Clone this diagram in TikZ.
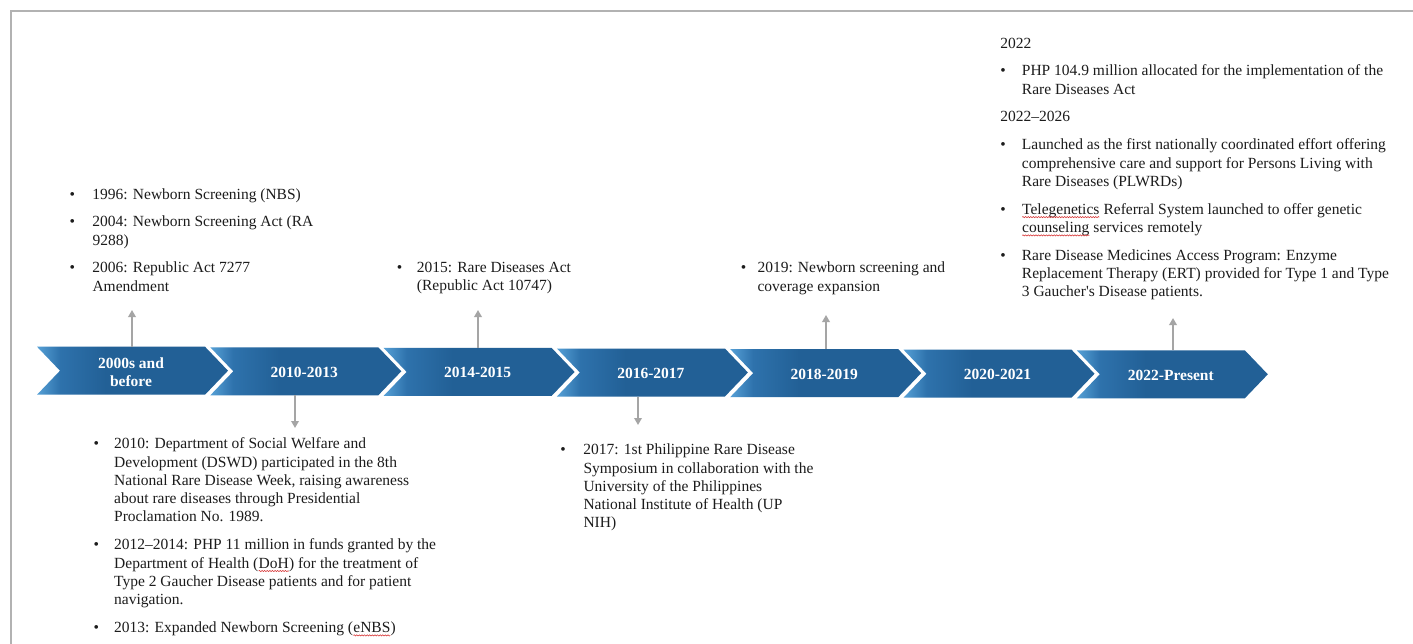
\documentclass[tikz,border=0pt]{standalone}
\usepackage{fontspec}
\setmainfont{Liberation Serif}
\usetikzlibrary{arrows.meta,decorations.pathmorphing}

\definecolor{chevlight}{RGB}{86,160,214}
\definecolor{chevmid}{RGB}{46,114,172}
\definecolor{chevdark}{RGB}{34,96,150}
\definecolor{arrowgray}{RGB}{165,165,165}
\definecolor{framegray}{RGB}{178,178,178}
\definecolor{bodytext}{RGB}{28,28,28}
\definecolor{spellred}{RGB}{215,50,50}

% light-to-dark fill of the period chevrons (visible band is 25bp..75bp)
\pgfdeclarehorizontalshading{chevshade}{100bp}{color(0bp)=(chevlight); color(25bp)=(chevlight); color(31bp)=(chevmid); color(43bp)=(chevdark); color(100bp)=(chevdark)}

% bullet item, continuation line, first-line strut
\newcommand\itm[2]{\makebox[#1][l]{•}#2}
\newcommand\cnt[2]{\hspace*{#1}#2}
\newcommand\topstrut{\rule{0pt}{13pt}}
% word with a red wavy underline
\newcommand\spellmark[1]{\tikz[baseline=(sw.base)]{\node[inner sep=0pt,outer sep=0pt,anchor=base] (sw) at (0,0) {#1};\draw[spellred,line width=0.55pt,decorate,decoration={snake,amplitude=0.6pt,segment length=2.6pt}] ([yshift=-3pt]sw.base west) -- ([yshift=-3pt]sw.base east);}}

\tikzset{
  chevlabel/.style={text=white, font=\fontsize{15.5pt}{18pt}\selectfont\bfseries, align=center, inner sep=0pt},
  events/.style={text=bodytext, font=\fontsize{15.5pt}{18.3pt}\selectfont, align=left, inner sep=0pt, anchor=north west},
  linkarrow/.style={draw=arrowgray, line width=2pt, -{Triangle[width=7.5pt,length=7pt]}},
}

\begin{document}
\begin{tikzpicture}[x=1pt,y=-1pt]
\useasboundingbox (0,0) rectangle (1413,643);
\fill[white] (0,0) rectangle (1413,643);

% page frame
\draw[framegray, line width=1.8pt] (10.8,650) -- (10.8,10.8) -- (1420,10.8);

% period chevrons
\foreach \k/\lab in {0/{2000s and\\before}, 1/{2010-2013}, 2/{2014-2015}, 3/{2016-2017}, 4/{2018-2019}, 5/{2020-2021}, 6/{2022-Present}}{
  \pgfmathsetmacro\L{37+173.3*\k}
  \pgfmathsetmacro\T{346.7+0.6*\k}
  \shade[shading=chevshade] (\L,\T) -- ++(168,0) -- ++(23,24) -- ++(-23,24) -- ++(-168,0) -- ++(23,-24) -- cycle;
  \node[chevlabel] (period\k) at (\L+94,\T+25) {\lab};
}

% anchor points on the chevrons and arrow tips
\coordinate (a0) at (132,346.7);   \coordinate (a0tip) at (132,310);
\coordinate (a2) at (478,347.9);   \coordinate (a2tip) at (478,310);
\coordinate (a4) at (826,349.1);   \coordinate (a4tip) at (826,315);
\coordinate (a6) at (1173,350.3);  \coordinate (a6tip) at (1173,318);
\coordinate (b1) at (295,395.3);   \coordinate (b1tip) at (295,428);
\coordinate (b3) at (638,396.5);   \coordinate (b3tip) at (638,425);

\draw[linkarrow] (a0) -- (a0tip);
\draw[linkarrow] (a2) -- (a2tip);
\draw[linkarrow] (a4) -- (a4tip);
\draw[linkarrow] (a6) -- (a6tip);
\draw[linkarrow] (b1) -- (b1tip);
\draw[linkarrow] (b3) -- (b3tip);

% events above the timeline
\node[events] (evA) at (69.5,185.8) {\topstrut\itm{22.8pt}{1996: Newborn Screening (NBS)}\\[9.5pt]
\itm{22.8pt}{2004: Newborn Screening Act (RA}\\
\cnt{22.8pt}{9288)}\\[9.5pt]
\itm{22.8pt}{2006: Republic Act 7277}\\
\cnt{22.8pt}{Amendment}};

\node[events] (evB) at (396.6,259.2) {\topstrut\itm{20.1pt}{2015: Rare Diseases Act}\\
\cnt{20.1pt}{(Republic Act 10747)}};

\node[events] (evC) at (740.6,259.5) {\topstrut\itm{16.7pt}{2019: Newborn screening and}\\
\cnt{16.7pt}{coverage expansion}};

\node[events] (evD) at (1000.1,34.8) {\topstrut 2022\\[9.5pt]
\itm{21.6pt}{PHP 104.9 million allocated for the implementation of the}\\
\cnt{21.6pt}{Rare Diseases Act}\\[9.5pt]
2022–2026\\[9.5pt]
\itm{21.6pt}{Launched as the first nationally coordinated effort offering}\\
\cnt{21.6pt}{comprehensive care and support for Persons Living with}\\
\cnt{21.6pt}{Rare Diseases (PLWRDs)}\\[9.5pt]
\itm{21.6pt}{\spellmark{Telegenetics} Referral System launched to offer genetic}\\
\cnt{21.6pt}{\spellmark{counseling} services remotely}\\[9.5pt]
\itm{21.6pt}{Rare Disease Medicines Access Program: Enzyme}\\
\cnt{21.6pt}{Replacement Therapy (ERT) provided for Type 1 and Type}\\
\cnt{21.6pt}{3 Gaucher\textquotesingle s Disease patients.}};

% events below the timeline
\node[events] (evE) at (93.3,435.5) {\topstrut\itm{20.7pt}{2010: Department of Social Welfare and}\\
\cnt{20.7pt}{Development (DSWD) participated in the 8th}\\
\cnt{20.7pt}{National Rare Disease Week, raising awareness}\\
\cnt{20.7pt}{about rare diseases through Presidential}\\
\cnt{20.7pt}{Proclamation No. 1989.}\\[9.5pt]
\itm{20.7pt}{2012–2014: PHP 11 million in funds granted by the}\\
\cnt{20.7pt}{Department of Health (\spellmark{DoH}) for the treatment of}\\
\cnt{20.7pt}{Type 2 Gaucher Disease patients and for patient}\\
\cnt{20.7pt}{navigation.}\\[9.5pt]
\itm{20.7pt}{2013: Expanded Newborn Screening (\spellmark{eNBS})}};

\node[events] (evF) at (560.1,441.5) {\topstrut\itm{23.2pt}{2017: 1st Philippine Rare Disease}\\
\cnt{23.2pt}{Symposium in collaboration with the}\\
\cnt{23.2pt}{University of the Philippines}\\
\cnt{23.2pt}{National Institute of Health (UP}\\
\cnt{23.2pt}{NIH)}};
\end{tikzpicture}
\end{document}
